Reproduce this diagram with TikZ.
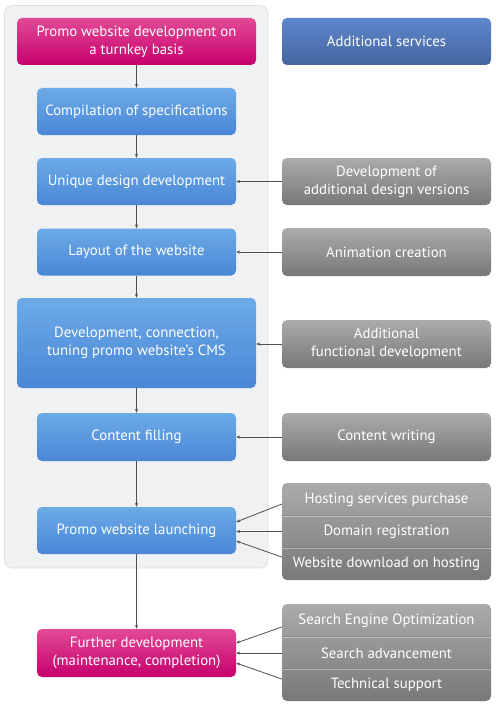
\documentclass[tikz,border=0pt]{standalone}
\usepackage{fontspec}
\setmainfont{PT Sans}
\usetikzlibrary{arrows.meta}
\definecolor{pinkT}{HTML}{E24A95}
\definecolor{pinkB}{HTML}{C6006E}
\definecolor{blueT}{HTML}{6CABE7}
\definecolor{blueB}{HTML}{4A86D6}
\definecolor{dblueT}{HTML}{5F87CD}
\definecolor{dblueB}{HTML}{45659F}
\definecolor{greyT}{HTML}{ABABAB}
\definecolor{greyB}{HTML}{787878}
\definecolor{panelF}{HTML}{EFF1F3}
\definecolor{panelD}{HTML}{DCDFE3}
\definecolor{arr}{HTML}{505050}
\tikzset{
  basebox/.style={rounded corners=5pt, text=white, align=center, inner sep=0pt,
    font=\fontsize{14.8}{18}\selectfont},
  pinkbox/.style={basebox, top color=pinkT, bottom color=pinkB},
  bluebox/.style={basebox, top color=blueT, bottom color=blueB},
  dbluebox/.style={basebox, top color=dblueT, bottom color=dblueB},
  greybox/.style={basebox, top color=greyT, bottom color=greyB},
  rowtext/.style={text=white, align=center, inner sep=0pt, minimum width=209pt,
    font=\fontsize{14.8}{18}\selectfont},
  conn/.style={draw=arr, line width=0.8pt, -{Stealth[length=4pt,width=3.2pt]}},
}
\begin{document}
\begin{tikzpicture}[x=1pt,y=-1pt]
\useasboundingbox (0,0) rectangle (495,706);
% panel
\draw[fill=panelF, draw=panelD, line width=0.8pt, rounded corners=8pt] (4.5,5.5) rectangle (268,568);
% left column
\node[pinkbox, minimum width=239pt, minimum height=47pt] (top) at (136.5,41.5) {Promo website development on\\a turnkey basis};
\node[bluebox, minimum width=199pt, minimum height=47pt] (comp) at (136.5,111.5) {Compilation of specifications};
\node[bluebox, minimum width=199pt, minimum height=47pt] (uniq) at (136.5,181.5) {Unique design development};
\node[bluebox, minimum width=199pt, minimum height=47pt] (lay) at (136.5,252) {Layout of the website};
\node[bluebox, minimum width=239pt, minimum height=90pt] (cms) at (136.5,343) {Development, connection,\\tuning promo website’s CMS};
\node[bluebox, minimum width=199pt, minimum height=48pt] (cf) at (136.5,437) {Content filling};
\node[bluebox, minimum width=199pt, minimum height=47pt] (launch) at (136.5,530.5) {Promo website launching};
\node[pinkbox, minimum width=199pt, minimum height=48pt] (fur) at (136.5,653) {Further development\\(maintenance, completion)};
% right column
\node[dbluebox, minimum width=209pt, minimum height=47pt] (add) at (386.5,41.5) {Additional services};
\node[greybox, minimum width=209pt, minimum height=47pt] (adv) at (386.5,181.5) {Development of\\additional design versions};
\node[greybox, minimum width=209pt, minimum height=48pt] (anim) at (386.5,252) {Animation creation};
\node[greybox, minimum width=209pt, minimum height=48pt] (afd) at (386.5,344) {Additional\\functional development};
\node[greybox, minimum width=209pt, minimum height=48pt] (cw) at (386.5,437) {Content writing};
% hosting group
\node[greybox, minimum width=209pt, minimum height=97pt] (hg) at (386.5,531.5) {};
\draw[black!45, line width=0.6pt] (282,515.5) -- (491,515.5);
\draw[white!75!black, line width=0.6pt] (282,516.5) -- (491,516.5);
\draw[black!50, line width=0.6pt] (282,547.5) -- (491,547.5);
\draw[white!70!black, line width=0.6pt] (282,548.5) -- (491,548.5);
\node[rowtext, minimum height=32pt] (h1) at (386.5,499.5) {Hosting services purchase};
\node[rowtext, minimum height=32pt] (h2) at (386.5,531.5) {Domain registration};
\node[rowtext, minimum height=32pt] (h3) at (386.5,564) {Website download on hosting};
% seo group
\node[greybox, minimum width=209pt, minimum height=97pt] (sg) at (386.5,652.5) {};
\draw[black!45, line width=0.6pt] (282,636.5) -- (491,636.5);
\draw[white!75!black, line width=0.6pt] (282,637.5) -- (491,637.5);
\draw[black!50, line width=0.6pt] (282,668.5) -- (491,668.5);
\draw[white!70!black, line width=0.6pt] (282,669.5) -- (491,669.5);
\node[rowtext, minimum height=32pt] (s1) at (386.5,620.5) {Search Engine Optimization};
\node[rowtext, minimum height=32pt] (s2) at (386.5,653) {Search advancement};
\node[rowtext, minimum height=32pt] (s3) at (386.5,685) {Technical support};
% vertical connectors
\draw[conn] (top.south) -- (comp.north);
\draw[conn] (comp.south) -- (uniq.north);
\draw[conn] (uniq.south) -- (lay.north);
\draw[conn] (lay.south) -- (cms.north);
\draw[conn] (cms.south) -- (cf.north);
\draw[conn] (cf.south) -- (launch.north);
\draw[conn] (launch.south) -- (fur.north);
% horizontal connectors
\draw[conn] (adv.west) -- (uniq.east);
\draw[conn] (anim.west) -- (lay.east);
\draw[conn] (afd.west) -- (afd.west -| cms.east);
\draw[conn] (cw.west) -- (cf.east);
\draw[conn] ([yshift=-4.5pt]h1.west) -- ([yshift=8.5pt]launch.east);
\draw[conn] (h2.west) -- (h2.west -| launch.east);
\draw[conn] ([yshift=7pt]h3.west) -- ([yshift=-10.5pt]launch.east);
\draw[conn] ([yshift=-6.5pt]s1.west) -- ([yshift=10pt]fur.east);
\draw[conn] (s2.west) -- (fur.east);
\draw[conn] ([yshift=6pt]s3.west) -- ([yshift=-10pt]fur.east);
\end{tikzpicture}
\end{document}
